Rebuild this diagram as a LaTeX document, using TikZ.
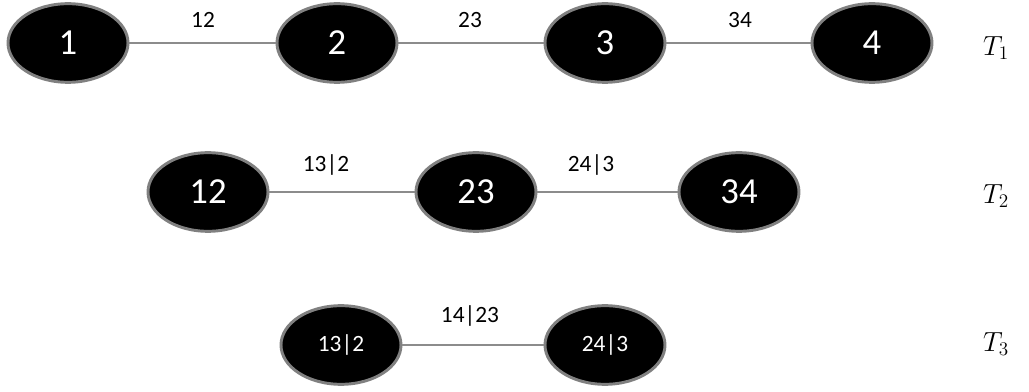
\documentclass[tikz,border=0pt]{standalone}
\usepackage[no-math]{fontspec}
\setmainfont{Carlito}
\usetikzlibrary{shapes.geometric}
\tikzset{
  vert/.style={ellipse, fill=black, draw=black!50, line width=2.2pt, minimum width=90pt, minimum height=59pt, inner sep=0pt, text=white, font=\fontsize{27.5}{30}\selectfont},
  smallvert/.style={vert, font=\fontsize{17.5}{20}\selectfont},
  edge/.style={draw=black!45, line width=1.1pt},
  elabel/.style={font=\fontsize{17.5}{20}\selectfont, inner sep=0pt},
  tlabel/.style={font=\fontsize{20}{24}\selectfont, inner sep=0pt}
}
\begin{document}
\begin{tikzpicture}[x=0.75pt,y=-0.75pt]
\useasboundingbox (0,0) rectangle (1029,392);
% Tree 1
\node[vert] (n1) at (68,43) {1};
\node[vert] (n2) at (337,43) {2};
\node[vert] (n3) at (605,43) {3};
\node[vert] (n4) at (872,43) {4};
\draw[edge] (n1) -- (n2);
\draw[edge] (n2) -- (n3);
\draw[edge] (n3) -- (n4);
\node[elabel] (l12) at (203,20) {12};
\node[elabel] (l23) at (470,20) {23};
\node[elabel] (l34) at (740,20) {34};
\node[tlabel] (t1) at (996,48) {$T_1$};
% Tree 2
\node[vert] (m12) at (208,192) {12};
\node[vert] (m23) at (476,192) {23};
\node[vert] (m34) at (739,192) {34};
\draw[edge] (m12) -- (m23);
\draw[edge] (m23) -- (m34);
\node[elabel] (l132) at (326,165) {13|2};
\node[elabel] (l243) at (591,165) {24|3};
\node[tlabel] (t2) at (996,196) {$T_2$};
% Tree 3
\node[smallvert] (k1) at (341,345) {13|2};
\node[smallvert] (k2) at (605,345) {24|3};
\draw[edge] (k1) -- (k2);
\node[elabel] (l1423) at (470,316) {14|23};
\node[tlabel] (t3) at (996,344) {$T_3$};
\end{tikzpicture}
\end{document}
